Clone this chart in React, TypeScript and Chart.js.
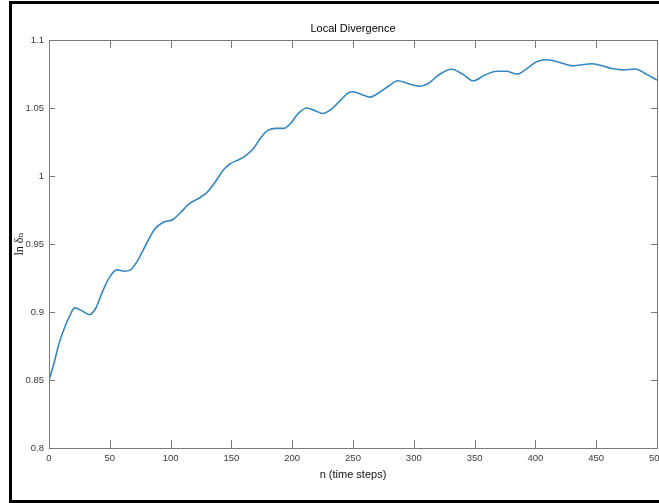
import React, { useEffect, useRef } from "react";
import { Chart, registerables } from "chart.js";

Chart.register(...registerables);

const TITLE = "Local Divergence";
const X_LABEL = "n (time steps)";
const Y_LABEL = "ln δₙ";

const nSteps = [
  0, 4, 8, 13, 17, 21, 27, 33, 38, 44, 50, 56, 62, 67, 73, 80, 87, 94, 102, 108,
  116, 124, 130, 137, 143, 149, 156, 161, 168, 174, 180, 187, 193, 199, 205, 212,
  219, 225, 232, 240, 246, 250, 257, 264, 271, 279, 287, 295, 305, 312, 320, 331,
  340, 349, 358, 368, 376, 385, 393, 401, 409, 418, 431, 440, 446, 455, 463, 472,
  482, 491, 500,
];

const lnDelta = [
  0.85, 0.862, 0.876, 0.889, 0.897, 0.903, 0.901, 0.898, 0.902, 0.915, 0.926,
  0.931, 0.93, 0.931, 0.938, 0.95, 0.961, 0.966, 0.968, 0.973, 0.98, 0.984,
  0.988, 0.996, 1.004, 1.009, 1.012, 1.0145, 1.02, 1.028, 1.0335, 1.035, 1.035,
  1.039, 1.046, 1.05, 1.048, 1.046, 1.049, 1.056, 1.061, 1.062, 1.06, 1.058,
  1.061, 1.066, 1.07, 1.068, 1.066, 1.068, 1.074, 1.0785, 1.075, 1.07, 1.074,
  1.077, 1.077, 1.075, 1.079, 1.084, 1.0855, 1.084, 1.081, 1.082, 1.0825, 1.081,
  1.079, 1.078, 1.0787, 1.075, 1.0705,
];

const X_MIN = 0;
const X_MAX = 500;
const X_STEP = 50;
const Y_MIN = 0.8;
const Y_MAX = 1.1;
const Y_STEP = 0.05;

const AXIS_COLOR = "#7a7a7a";
const LABEL_COLOR = "#3a3a3a";
const LINE_COLOR = "#3587bd";
const NARROW = "'Liberation Sans Narrow', 'Liberation Sans', Arial, sans-serif";

const CANVAS_W = 680;
const CANVAS_H = 503;

const boxAndTicks = {
  id: "boxAndTicks",
  afterDatasetsDraw(chart: any) {
    const { ctx, chartArea: a, scales } = chart;
    ctx.save();
    ctx.strokeStyle = AXIS_COLOR;
    ctx.lineWidth = 1;
    ctx.beginPath();
    scales.x.ticks.forEach((t: any) => {
      const px = Math.round(scales.x.getPixelForValue(t.value)) + 0.5;
      ctx.moveTo(px, a.bottom);
      ctx.lineTo(px, a.bottom - 8);
      ctx.moveTo(px, a.top);
      ctx.lineTo(px, a.top + 8);
    });
    scales.y.ticks.forEach((t: any) => {
      const py = Math.round(scales.y.getPixelForValue(t.value)) + 0.5;
      ctx.moveTo(a.left, py);
      ctx.lineTo(a.left + 6, py);
      ctx.moveTo(a.right, py);
      ctx.lineTo(a.right - 6, py);
    });
    ctx.stroke();
    ctx.strokeRect(
      Math.round(a.left) + 0.5,
      Math.round(a.top) + 0.5,
      Math.round(a.right) - Math.round(a.left),
      Math.round(a.bottom) - Math.round(a.top)
    );
    ctx.restore();
  },
};

export default function App() {
  const ref = useRef<HTMLCanvasElement | null>(null);

  useEffect(() => {
    if (!ref.current) return;
    const chart = new Chart(ref.current, {
      type: "line",
      data: {
        datasets: [
          {
            data: nSteps.map((n, i) => ({ x: n, y: lnDelta[i] })),
            borderColor: LINE_COLOR,
            borderWidth: 1.6,
            pointRadius: 0,
            tension: 0.4,
            cubicInterpolationMode: "monotone",
            fill: false,
          },
        ],
      },
      options: {
        animation: false,
        responsive: false,
        maintainAspectRatio: false,
        events: [],
        layout: { padding: { left: 0, right: CANVAS_W - 657, top: 0, bottom: 0 } },
        plugins: {
          legend: { display: false },
          tooltip: { enabled: false },
          title: {
            display: true,
            text: TITLE,
            fullSize: false,
            color: "#000",
            font: { family: NARROW, size: 11, weight: "normal" },
            padding: { top: 22, bottom: 4.8 },
          },
        },
        scales: {
          x: {
            type: "linear",
            min: X_MIN,
            max: X_MAX,
            grid: { display: false, drawTicks: false },
            border: { display: false },
            ticks: {
              stepSize: X_STEP,
              padding: 5,
              color: LABEL_COLOR,
              font: { family: NARROW, size: 9.5 },
              maxRotation: 0,
            },
            title: {
              display: true,
              text: X_LABEL,
              color: "#111",
              font: { family: NARROW, size: 11 },
              padding: { top: 0, bottom: 21 },
            },
            afterFit: (s: any) => {
              s.height = 55;
            },
          },
          y: {
            type: "linear",
            min: Y_MIN,
            max: Y_MAX,
            grid: { display: false, drawTicks: false },
            border: { display: false },
            ticks: {
              stepSize: Y_STEP,
              padding: 5,
              color: LABEL_COLOR,
              font: { family: NARROW, size: 9.5 },
              callback: (v: any) => String(Number(Number(v).toFixed(2))),
            },
            title: {
              display: true,
              text: Y_LABEL,
              color: "#111",
              font: { family: "'Liberation Serif', 'DejaVu Serif', serif", size: 12 },
              padding: { top: 13, bottom: 0 },
            },
            afterFit: (s: any) => {
              s.width = 49;
            },
          },
        },
      },
      plugins: [boxAndTicks],
    });
    return () => chart.destroy();
  }, []);

  return (
    <div
      style={{
        position: "absolute",
        left: 0,
        top: 0,
        width: 659,
        height: 503,
        overflow: "hidden",
        background: "#fff",
      }}
    >
      <canvas
        ref={ref}
        width={CANVAS_W}
        height={CANVAS_H}
        style={{ display: "block", width: CANVAS_W, height: CANVAS_H }}
      />
      <div
        style={{
          position: "absolute",
          left: 9,
          top: 1,
          width: 700,
          height: 502,
          border: "3px solid #000",
          boxSizing: "border-box",
          pointerEvents: "none",
        }}
      />
    </div>
  );
}
